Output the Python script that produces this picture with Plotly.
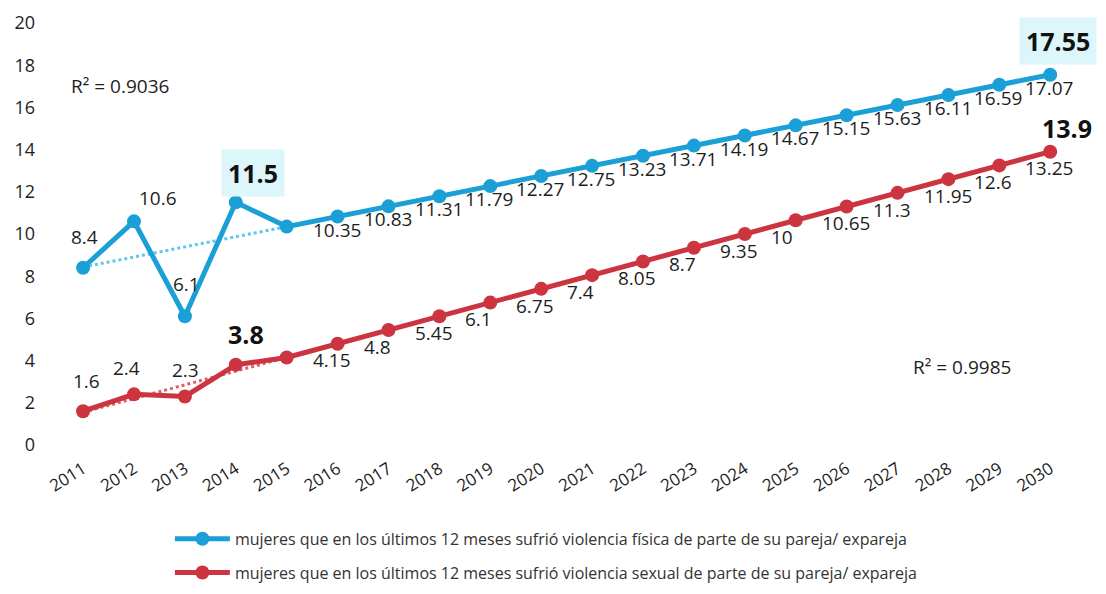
import numpy as np
import plotly.graph_objects as go

years = list(range(2011, 2031))
fisica = [8.4, 10.6, 6.1, 11.5, 10.35, 10.83, 11.31, 11.79, 12.27, 12.75, 13.23, 13.71,
          14.19, 14.67, 15.15, 15.63, 16.11, 16.59, 17.07, 17.55]
sexual = [1.6, 2.4, 2.3, 3.8, 4.15, 4.8, 5.45, 6.1, 6.75, 7.4, 8.05, 8.7,
          9.35, 10, 10.65, 11.3, 11.95, 12.6, 13.25, 13.9]
n_obs = 4
r2_fis = "R² = 0.9036"
r2_sex = "R² = 0.9985"
name_fis = "mujeres que en los últimos 12 meses sufrió violencia física de parte de su pareja/ expareja"
name_sex = "mujeres que en los últimos 12 meses sufrió violencia sexual de parte de su pareja/ expareja"

BLUE = "#1b9fd7"
RED = "#cc3440"
FONT = "Open Sans"
TXT = "#1e1e1e"
LBL = 19


def fmt(v):
    return ("%g" % v)


def trend(vals):
    xs = np.arange(n_obs)
    m, b = np.polyfit(xs, np.array(vals[:n_obs]), 1)
    return [b + m * i for i in range(len(years))]


fig = go.Figure()

# dotted trend lines
fig.add_trace(go.Scatter(x=years, y=trend(fisica), mode="lines", showlegend=False,
                         line=dict(color="#5cc8ec", width=3, dash="dot"), hoverinfo="skip"))
fig.add_trace(go.Scatter(x=years, y=trend(sexual), mode="lines", showlegend=False,
                         line=dict(color="#e0606a", width=3, dash="dot"), hoverinfo="skip"))

fig.add_trace(go.Scatter(x=years, y=fisica, mode="lines+markers", name=name_fis, legend="legend",
                         line=dict(color=BLUE, width=5), marker=dict(color=BLUE, size=14),
                         cliponaxis=False))
fig.add_trace(go.Scatter(x=years, y=sexual, mode="lines+markers", name=name_sex, legend="legend2",
                         line=dict(color=RED, width=5), marker=dict(color=RED, size=14),
                         cliponaxis=False))

annotations = []
# projected values: label to the right of each point
for vals in (fisica, sexual):
    for i in range(n_obs, len(years) - 1):
        annotations.append(dict(x=years[i], y=vals[i], text=fmt(vals[i]), showarrow=False,
                                xanchor="left", xshift=24, yshift=-3,
                                font=dict(family=FONT, size=LBL, color=TXT)))

# observed values above the points (x-shift, y-shift in px)
obs_shift_fis = [(1, 31), (24, 23), (2, 32)]
obs_shift_sex = [(3, 30), (-7, 26), (1, 26)]
for vals, shifts in ((fisica, obs_shift_fis), (sexual, obs_shift_sex)):
    for i, (dx, dy) in enumerate(shifts):
        annotations.append(dict(x=years[i], y=vals[i], text=fmt(vals[i]), showarrow=False,
                                xshift=dx, yshift=dy,
                                font=dict(family=FONT, size=LBL, color=TXT)))

BOX = "#dcf6fb"
annotations.append(dict(x=years[3], y=fisica[3], text="<b>%s</b>" % fmt(fisica[3]), showarrow=False,
                        xshift=17, yshift=29, bgcolor=BOX, borderpad=6,
                        font=dict(family=FONT, size=25, color="#111111")))
annotations.append(dict(x=years[19], y=fisica[19], text="<b>%s</b>" % fmt(fisica[19]), showarrow=False,
                        xshift=8, yshift=34, bgcolor=BOX, borderpad=6,
                        font=dict(family=FONT, size=25, color="#111111")))
annotations.append(dict(x=years[3], y=sexual[3], text="<b>%s</b>" % fmt(sexual[3]), showarrow=False,
                        xshift=10, yshift=31,
                        font=dict(family=FONT, size=25, color="#111111")))
annotations.append(dict(x=years[19], y=sexual[19], text="<b>%s</b>" % fmt(sexual[19]), showarrow=False,
                        xshift=17, yshift=24,
                        font=dict(family=FONT, size=25, color="#111111")))
annotations.append(dict(x=2011.73, y=17.0, text=r2_fis, showarrow=False,
                        font=dict(family=FONT, size=19, color=TXT)))
annotations.append(dict(x=2028.27, y=3.7, text=r2_sex, showarrow=False,
                        font=dict(family=FONT, size=19, color=TXT)))

legend_common = dict(orientation="v", xanchor="left", yanchor="top", itemwidth=55,
                     font=dict(family=FONT, size=16, color="#333333"))

fig.update_layout(
    width=1106, height=594,
    margin=dict(l=42, r=48, t=15, b=155),
    plot_bgcolor="white", paper_bgcolor="white",
    font=dict(family=FONT, color=TXT),
    annotations=annotations,
    xaxis=dict(range=[2010.35, 2030.31], tickvals=years, ticktext=[str(y) for y in years],
               tickangle=-32, showgrid=False, zeroline=False, showline=False, automargin=False,
               ticks="", ticklabelstandoff=10,
               tickfont=dict(family=FONT, size=17, color=TXT)),
    yaxis=dict(range=[0, 20], tickvals=list(range(0, 21, 2)), showgrid=False, zeroline=False,
               showline=False, automargin=False, ticks="", ticklabelstandoff=14,
               tickfont=dict(family=FONT, size=18, color=TXT)),
    legend=dict(x=0.118, y=-0.182, **legend_common),
    legend2=dict(x=0.118, y=-0.262, **legend_common),
    showlegend=True,
)

fig.write_html("out.html")
